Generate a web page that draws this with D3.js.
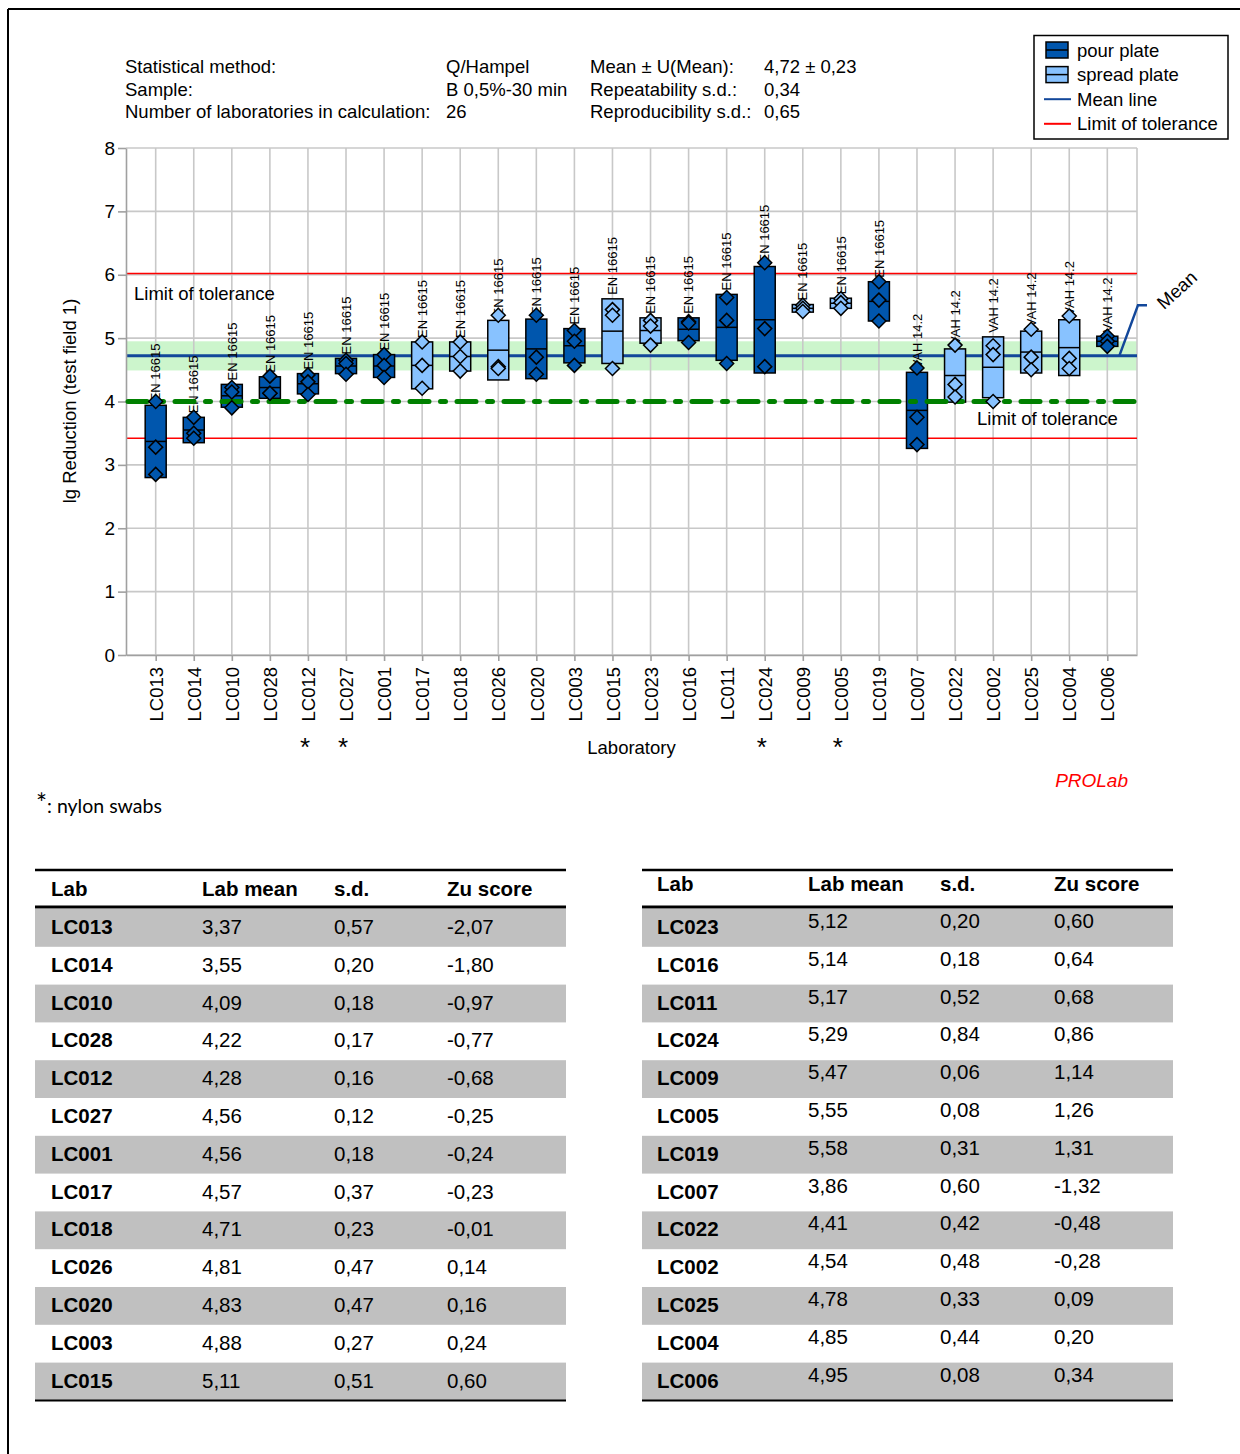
<!DOCTYPE html>
<html><head><meta charset="utf-8">
<script src="https://cdn.jsdelivr.net/npm/d3@7"></script>
<style>
body{margin:0;background:#fff}
text{font-family:"Liberation Sans",Arial,sans-serif;fill:#000}
</style>
</head><body><svg id="c" width="1240" height="1454"></svg>
<script>
// ---------------- DATA ----------------
const labs = ["LC013","LC014","LC010","LC028","LC012","LC027","LC001","LC017","LC018","LC026","LC020","LC003","LC015","LC023","LC016","LC011","LC024","LC009","LC005","LC019","LC007","LC022","LC002","LC025","LC004","LC006"];
const means = [3.37,3.55,4.09,4.22,4.28,4.56,4.56,4.57,4.71,4.81,4.83,4.88,5.11,5.12,5.14,5.17,5.29,5.47,5.55,5.58,3.86,4.41,4.54,4.78,4.85,4.95];
const sds = [0.57,0.20,0.18,0.17,0.16,0.12,0.18,0.37,0.23,0.47,0.47,0.27,0.51,0.20,0.18,0.52,0.84,0.06,0.08,0.31,0.60,0.42,0.48,0.33,0.44,0.08];
const zuScores = [-2.07,-1.80,-0.97,-0.77,-0.68,-0.25,-0.24,-0.23,-0.01,0.14,0.16,0.24,0.60,0.60,0.64,0.68,0.86,1.14,1.26,1.31,-1.32,-0.48,-0.28,0.09,0.20,0.34];
const methods = ["pour","pour","pour","pour","pour","pour","pour","spread","spread","spread","pour","pour","spread","spread","pour","pour","pour","spread","spread","pour","pour","spread","spread","spread","spread","pour"];
const standards = ["EN 16615","EN 16615","EN 16615","EN 16615","EN 16615","EN 16615","EN 16615","EN 16615","EN 16615","EN 16615","EN 16615","EN 16615","EN 16615","EN 16615","EN 16615","EN 16615","EN 16615","EN 16615","EN 16615","EN 16615","VAH 14.2","VAH 14.2","VAH 14.2","VAH 14.2","VAH 14.2","VAH 14.2"];
const replicates = [
  [4.00,3.28,2.85],[3.75,3.50,3.42],[4.22,4.15,3.90],[4.40,4.13,4.13],[4.42,4.31,4.11],
  [4.65,4.60,4.43],[4.74,4.57,4.38],[4.94,4.57,4.21],[4.94,4.71,4.48],[5.36,4.55,4.52],
  [5.36,4.70,4.43],[5.12,4.95,4.57],[5.45,5.36,4.52],[5.28,5.19,4.89],[5.26,5.24,4.93],
  [5.64,5.28,4.60],[6.19,5.15,4.55],[5.52,5.47,5.42],[5.62,5.56,5.47],[5.89,5.60,5.27],
  [4.53,3.75,3.32],[4.89,4.27,4.07],[4.88,4.74,4.00],[5.14,4.70,4.50],[5.35,4.68,4.52],[5.03,4.95,4.87]
];
const nylonSwabs = ["LC012","LC027","LC024","LC005"];
const yTicks = [0,1,2,3,4,5,6,7,8];
const overallMean = 4.72, uMean = 0.23, lowerTol = 3.42, upperTol = 6.02, limitValue = 4.0;
const headerLeft = [["Statistical method:","Q/Hampel"],["Sample:","B 0,5%-30 min"],["Number of laboratories in calculation:","26"]];
const headerRight = [["Mean ± U(Mean):","4,72 ± 0,23"],["Repeatability s.d.:","0,34"],["Reproducibility s.d.:","0,65"]];
const tableHeaders = ["Lab","Lab mean","s.d.","Zu score"];
const legendItems = [["box","pour","pour plate"],["box","spread","spread plate"],["line","mean","Mean line"],["line","tol","Limit of tolerance"]];

// ---------------- STYLE ----------------
const colors = {pour:"#0056ad", spread:"#88c2ff", mean:"#12479a", tol:"#ff0000", band:"#ccf5cc", grid:"#c8c8c8", axis:"#a0a0a0", green:"#008000"};
const FS = 18.5;
const svg = d3.select("#c");

// outer frame
svg.append("line").attr("x1",8).attr("y1",9).attr("x2",1240).attr("y2",9).attr("stroke","#000").attr("stroke-width",2);
svg.append("line").attr("x1",8).attr("y1",9).attr("x2",8).attr("y2",1454).attr("stroke","#000").attr("stroke-width",2);

// header
const hdr = svg.append("g").attr("font-size",FS);
headerLeft.forEach((r,i)=>{
  hdr.append("text").attr("x",125).attr("y",73+i*22.5).text(r[0]);
  hdr.append("text").attr("x",446).attr("y",73+i*22.5).text(r[1]);
});
headerRight.forEach((r,i)=>{
  hdr.append("text").attr("x",590).attr("y",73+i*22.5).text(r[0]);
  hdr.append("text").attr("x",764).attr("y",73+i*22.5).text(r[1]);
});

// legend
const lg = svg.append("g");
lg.append("rect").attr("x",1034).attr("y",35.5).attr("width",194).attr("height",103.5).attr("fill","#fff").attr("stroke","#000").attr("stroke-width",1.5);
legendItems.forEach((it,i)=>{
  const cy = 50 + i*24.6;
  if(it[0]==="box"){
    lg.append("rect").attr("x",1046).attr("y",cy-8).attr("width",22).attr("height",16).attr("fill",colors[it[1]]).attr("stroke","#000").attr("stroke-width",1.5);
    lg.append("line").attr("x1",1046).attr("x2",1068).attr("y1",cy).attr("y2",cy).attr("stroke","#000").attr("stroke-width",1.5);
  } else {
    lg.append("line").attr("x1",1044).attr("x2",1071).attr("y1",cy).attr("y2",cy).attr("stroke",colors[it[1]]).attr("stroke-width",2);
  }
  lg.append("text").attr("x",1077).attr("y",cy+6.5).attr("font-size",FS).text(it[2]);
});

// scales
const x = d3.scalePoint().domain(labs).range([126,1137]).padding(0.78);
const y = d3.scaleLinear().domain([0,8]).range([655,148]);
const [x0,x1] = x.range();

const plot = svg.append("g");
// band
plot.append("rect").attr("x",x0).attr("width",x1-x0).attr("y",y(overallMean+uMean)).attr("height",y(overallMean-uMean)-y(overallMean+uMean)).attr("fill",colors.band);
// grid
plot.selectAll(".hg").data(yTicks).join("line").attr("x1",x0).attr("x2",x1).attr("y1",d=>y(d)).attr("y2",d=>y(d)).attr("stroke",colors.grid).attr("stroke-width",1.6);
plot.selectAll(".vg").data(labs).join("line").attr("x1",d=>x(d)).attr("x2",d=>x(d)).attr("y1",y(8)).attr("y2",y(0)).attr("stroke",colors.grid).attr("stroke-width",1.6);
plot.append("line").attr("x1",x1).attr("x2",x1).attr("y1",y(8)).attr("y2",y(0)).attr("stroke",colors.grid).attr("stroke-width",1.6);

// tolerance lines
[upperTol,lowerTol].forEach(v=>{
  plot.append("line").attr("x1",x0).attr("x2",x1).attr("y1",y(v)).attr("y2",y(v)).attr("stroke",colors.tol).attr("stroke-width",1.6);
});
// mean line
plot.append("line").attr("x1",x0).attr("x2",x1).attr("y1",y(overallMean)).attr("y2",y(overallMean)).attr("stroke",colors.mean).attr("stroke-width",3);
const lastX = x(labs[labs.length-1]);
plot.append("path").attr("d",`M${lastX+12},${y(overallMean)} L${x1+1},${y(5.52)} L${x1+10},${y(5.52)}`).attr("fill","none").attr("stroke",colors.mean).attr("stroke-width",2.5);
plot.append("text").attr("transform",`translate(${x1+27},${y(5.52)+5}) rotate(-42)`).attr("font-size",FS).text("Mean");

// axes
const yAxis = svg.append("g").attr("transform",`translate(${x0},0)`).call(d3.axisLeft(y).tickValues(yTicks).tickSize(8).tickSizeOuter(0).tickPadding(3));
yAxis.selectAll("text").attr("font-size",19).attr("font-family",'"Liberation Sans",Arial,sans-serif').attr("fill","#000");
yAxis.selectAll("line,path").attr("stroke",colors.axis).attr("stroke-width",1.6);
const xAxis = svg.append("g").attr("transform",`translate(0,${y(0)})`).call(d3.axisBottom(x).tickSize(6).tickSizeOuter(0));
xAxis.selectAll("text").attr("font-size",FS).attr("font-family",'"Liberation Sans",Arial,sans-serif').attr("fill","#000")
  .attr("transform","rotate(-90)").attr("text-anchor","end").attr("x",-12).attr("y",0).attr("dy","0.36em");
xAxis.selectAll("line,path").attr("stroke",colors.axis).attr("stroke-width",1.6);

// boxes
const boxes = svg.append("g");
labs.forEach((lab,i)=>{
  const cx = x(lab), top = y(means[i]+sds[i]), bot = y(means[i]-sds[i]);
  boxes.append("rect").attr("x",cx-10.5).attr("y",top).attr("width",21).attr("height",bot-top).attr("fill",colors[methods[i]]).attr("stroke","#000").attr("stroke-width",1.5);
  boxes.append("line").attr("x1",cx-10.5).attr("x2",cx+10.5).attr("y1",y(means[i])).attr("y2",y(means[i])).attr("stroke","#000").attr("stroke-width",1.5);
  boxes.append("text").attr("transform",`translate(${cx},${top-4}) rotate(-90)`).attr("dy","0.36em").attr("font-size",13).text(standards[i]);
});
// limit dashed line
svg.append("line").attr("x1",x0+2).attr("x2",x1+3).attr("y1",y(limitValue)).attr("y2",y(limitValue)).attr("stroke",colors.green).attr("stroke-width",5).attr("stroke-linecap","round").attr("stroke-dasharray","19,11.5,5,11.5");
// diamonds
const dia = svg.append("g");
labs.forEach((lab,i)=>{
  const cx = x(lab);
  replicates[i].forEach(v=>{
    const cy = y(v), s = 7;
    dia.append("path").attr("d",`M${cx},${cy-s}L${cx+s},${cy}L${cx},${cy+s}L${cx-s},${cy}Z`).attr("fill",colors[methods[i]]).attr("stroke","#000").attr("stroke-width",1.5);
  });
});

// tolerance labels
svg.append("text").attr("x",134).attr("y",y(upperTol)+27).attr("font-size",FS).text("Limit of tolerance");
svg.append("text").attr("x",977).attr("y",y(lowerTol)-13).attr("font-size",FS).text("Limit of tolerance");

// axis titles
svg.append("text").attr("transform","translate(76,401) rotate(-90)").attr("text-anchor","middle").attr("font-size",FS).text("lg Reduction (test field 1)");
svg.append("text").attr("x",(x0+x1)/2).attr("y",754).attr("text-anchor","middle").attr("font-size",FS).text("Laboratory");
nylonSwabs.forEach(l=>{
  svg.append("text").attr("x",x(l)-3).attr("y",756).attr("text-anchor","middle").attr("font-size",26).text("*");
});
svg.append("text").attr("x",1128).attr("y",787).attr("text-anchor","end").attr("font-size",19).attr("font-style","italic").style("fill","#ff0000").text("PROLab");
const note = svg.append("text").attr("x",36).attr("y",813).attr("font-size",19.5).style("font-family","Lato, 'Open Sans', sans-serif");
note.append("tspan").attr("font-size",26).attr("dy",0).text("*");
note.append("tspan").text(": nylon swabs");

// tables
const fmt = v => (v<0?"-":"") + Math.abs(v).toFixed(2).replace(".",",");
function table(x0t, width, cols, startIdx, n, headerBase, numOffset){
  const g = svg.append("g");
  const rowH = 37.8, firstY = 909;
  for(let r=0;r<n;r++){
    if(r%2===0) g.append("rect").attr("x",x0t).attr("y",firstY+r*rowH).attr("width",width).attr("height",rowH).attr("fill","#c0c0c0");
  }
  g.append("line").attr("x1",x0t).attr("x2",x0t+width).attr("y1",870).attr("y2",870).attr("stroke","#000").attr("stroke-width",2.5);
  g.append("line").attr("x1",x0t).attr("x2",x0t+width).attr("y1",907).attr("y2",907).attr("stroke","#000").attr("stroke-width",3);
  g.append("line").attr("x1",x0t).attr("x2",x0t+width).attr("y1",firstY+n*rowH).attr("y2",firstY+n*rowH).attr("stroke","#000").attr("stroke-width",2);
  tableHeaders.forEach((h,c)=>g.append("text").attr("x",cols[c]).attr("y",headerBase).attr("font-size",20.5).attr("font-weight","bold").text(h));
  for(let r=0;r<n;r++){
    const i = startIdx+r, by = firstY+r*rowH+25;
    g.append("text").attr("x",cols[0]).attr("y",by).attr("font-size",20.5).attr("font-weight","bold").text(labs[i]);
    g.append("text").attr("x",cols[1]).attr("y",by-numOffset).attr("font-size",20.5).text(fmt(means[i]));
    g.append("text").attr("x",cols[2]).attr("y",by-numOffset).attr("font-size",20.5).text(fmt(sds[i]));
    g.append("text").attr("x",cols[3]).attr("y",by-numOffset).attr("font-size",20.5).text(fmt(zuScores[i]));
  }
}
table(35, 531, [51,202,334,447], 0, 13, 896, 0);
table(642, 531, [657,808,940,1054], 13, 13, 891, 6);
</script></body></html>
